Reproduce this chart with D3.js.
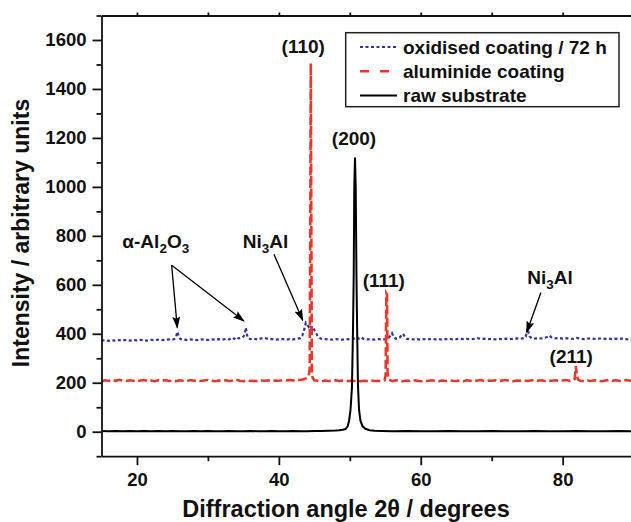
<!DOCTYPE html>
<html><head><meta charset="utf-8">
<script src="https://cdn.jsdelivr.net/npm/d3@7"></script>
<style>
body{margin:0;background:#fff}
svg{display:block}
text{font-family:"Liberation Sans",Arial,Helvetica,sans-serif;font-weight:bold;fill:#111}
</style>
</head><body>
<svg id="chart" width="631" height="522"></svg>
<script>
// ---------- data ----------
const xTicks = [20, 40, 60, 80];
const xMinorTicks = [30, 50, 70];
const xTopTicks = [20, 30, 40, 50, 60, 70, 80];
const yTicks = [0, 200, 400, 600, 800, 1000, 1200, 1400, 1600];
const yMinorTicks = [-100, 100, 300, 500, 700, 900, 1100, 1300, 1500, 1700];
const seriesNames = ["oxidised coating / 72 h", "aluminide coating", "raw substrate"];

const oxidised = [
[15,372],[15.5,374],[16,371],[16.5,373],[17,372],[17.5,374],[18,373],[18.5,375],[19,372],[19.5,374],
[20,373],[20.5,375],[21,374],[21.5,372],[22,375],[22.5,374],[23,376],[23.5,374],[24,375],[24.5,377],
[25,376],[25.3,379],[25.5,386],[25.7,408],[25.9,388],[26.1,379],[26.5,377],[27,375],[27.5,377],[28,376],
[28.5,374],[29,377],[29.5,376],[30,375],[30.5,377],[31,376],[31.5,378],[32,376],[32.5,379],[33,377],
[33.4,384],[33.7,379],[34,386],[34.3,381],[34.7,384],[35,388],[35.2,400],[35.35,425],[35.5,395],[35.7,382],
[36,378],[36.5,380],[37,377],[37.5,381],[38,383],[38.5,379],[39,378],[39.5,376],[40,377],[40.5,378],
[41,376],[41.5,378],[42,377],[42.5,379],[43,382],[43.3,392],[43.6,420],[43.8,445],[44,438],[44.2,428],
[44.4,435],[44.6,422],[44.8,426],[45,415],[45.2,404],[45.5,390],[45.8,382],[46,379],[46.5,378],[47,377],
[47.5,376],[48,378],[48.5,377],[49,376],[49.5,378],[50,377],[50.5,379],[51,386],[51.3,380],[51.6,385],
[52,378],[52.5,377],[53,378],[53.5,376],[54,378],[54.5,377],[55,378],[55.4,381],[55.7,392],[55.95,402],
[56.2,386],[56.5,380],[57,384],[57.3,394],[57.5,400],[57.8,386],[58,380],[58.5,378],[59,377],[59.5,378],
[60,376],[60.5,378],[61,377],[61.5,379],[62,377],[62.5,378],[63,376],[63.5,378],[64,379],[64.5,377],
[65,378],[65.5,380],[66,378],[66.5,379],[67,377],[67.5,379],[68,382],[68.5,379],[69,380],[69.5,378],
[70,379],[70.5,377],[71,379],[71.5,378],[72,380],[72.5,378],[73,379],[73.5,381],[74,379],[74.5,382],
[74.8,388],[75.05,422],[75.3,390],[75.6,383],[76,380],[76.5,382],[77,381],[77.5,384],[77.8,387],[78.1,393],
[78.4,386],[78.8,383],[79,381],[79.5,383],[80,380],[80.5,382],[81,380],[81.5,379],[82,383],[82.5,380],
[83,378],[83.5,380],[84,381],[84.5,379],[85,380],[85.5,381],[86,379],[86.5,380],[87,378],[87.5,380],
[88,379],[88.5,381],[89,378],[89.5,377],[90,378]
];

const aluminide = [
[15,206],[15.5,210],[16,207],[16.5,211],[17,208],[17.5,212],[18,209],[18.5,207],[19,210],[19.5,208],
[20,206],[20.5,209],[21,211],[21.5,207],[22,209],[22.5,206],[23,210],[23.5,208],[24,211],[24.5,207],
[25,209],[25.5,206],[26,210],[26.5,208],[27,207],[27.5,211],[28,208],[28.5,210],[29,207],[29.5,209],
[30,211],[30.5,208],[31,206],[31.5,209],[32,208],[32.5,210],[33,207],[33.5,209],[34,212],[34.5,208],
[35,206],[35.5,209],[36,207],[36.5,208],[37,206],[37.5,209],[38,208],[38.5,210],[39,207],[39.5,209],
[40,208],[40.5,210],[41,209],[41.5,211],[42,209],[42.5,212],[43,211],[43.5,214],[43.9,219],[44.2,226],
[44.35,260],[44.43,900],[44.5,1505],[44.57,900],[44.65,240],[44.75,220],[45,210],[45.5,208],[46,206],[46.5,209],
[47,207],[47.5,208],[48,210],[48.5,207],[49,209],[49.5,206],[50,208],[50.5,207],[51,209],[51.5,206],
[52,208],[52.5,207],[53,209],[53.5,207],[54,208],[54.5,206],[54.9,210],[55.05,230],[55.15,565],[55.25,560],
[55.32,240],[55.45,214],[55.8,209],[56,207],[56.5,210],[57,208],[57.5,206],[58,209],[58.5,207],[59,210],
[59.5,208],[60,206],[60.5,209],[61,207],[61.5,210],[62,208],[62.5,206],[63,209],[63.5,207],[64,210],
[64.5,208],[65,207],[65.5,209],[66,206],[66.5,210],[67,208],[67.5,207],[68,209],[68.5,211],[69,207],
[69.5,209],[70,208],[70.5,210],[71,207],[71.5,209],[72,211],[72.5,208],[73,206],[73.5,209],[74,208],
[74.5,210],[75,207],[75.5,209],[76,211],[76.5,208],[77,210],[77.5,207],[78,209],[78.5,208],[79,210],
[79.5,207],[80,209],[80.5,211],[81,208],[81.5,210],[81.7,215],[81.85,268],[82,232],[82.15,214],[82.5,208],
[83,206],[83.5,209],[84,207],[84.5,210],[85,208],[85.5,206],[86,209],[86.5,211],[87,208],[87.5,210],
[88,207],[88.5,209],[89,211],[89.5,208],[90,209]
];

const substrate = [
[15,3],[16,2],[17,3],[18,2],[19,3],[20,2],[21,3],[22,2],[23,3],[24,2],[25,3],[26,2],[27,2],[28,3],
[29,2],[30,3],[31,2],[32,2],[33,3],[34,2],[35,2],[36,3],[37,2],[38,2],[39,3],[40,2],[41,2],[42,3],
[43,2],[44,2],[45,3],[46,3],[47,4],[48,5],[48.5,6],[49,8],[49.4,11],[49.7,22],[49.9,45],[50.1,90],
[50.3,180],[50.45,420],[50.55,640],[50.63,1000],[50.73,1120],[50.83,1000],[50.95,600],[51.05,380],
[51.15,190],[51.3,90],[51.5,45],[51.8,22],[52.2,12],[52.8,6],[53.5,4],[54.5,3],[56,2],[58,3],[60,2],
[62,2],[64,3],[66,2],[68,2],[70,3],[72,2],[74,2],[76,3],[78,2],[80,2],[82,3],[84,2],[86,2],[88,3],[90,2]
];

// annotation labels: parts = [text, isSubscript]
const peakLabels = [
  {x: 43.44, y: 1547, parts: [["(110)", 0]]},
  {x: 50.59, y: 1170, parts: [["(200)", 0]]},
  {x: 54.79, y: 591,  parts: [["(111)", 0]]},
  {x: 81.21, y: 281,  parts: [["(211)", 0]]},
  {x: 22.65, y: 750,  parts: [["α-Al", 0], ["2", 1], ["O", 0], ["3", 1]]},
  {x: 38.13, y: 750,  parts: [["Ni", 0], ["3", 1], ["Al", 0]]},
  {x: 78.21, y: 605,  parts: [["Ni", 0], ["3", 1], ["Al", 0]]}
];
const arrows = [
  {x1: 24.89, y1: 680, x2: 25.68, y2: 425},
  {x1: 24.89, y1: 680, x2: 35.08, y2: 452},
  {x1: 39.31, y1: 725, x2: 43.36, y2: 455},
  {x1: 76.94, y1: 569, x2: 74.93, y2: 406}
];

// ---------- drawing ----------
const svg = d3.select("#chart");
const x = d3.scaleLinear().domain([15, 90]).range([101.5, 633.6]);
const y = d3.scaleLinear().domain([-100, 1700]).range([456.2, 15.5]);

const colors = {ox: "#33339c", al: "#e8382c", raw: "#000"};

svg.append("defs").append("marker")
  .attr("id", "arr").attr("markerUnits", "userSpaceOnUse")
  .attr("markerWidth", 12).attr("markerHeight", 8)
  .attr("refX", 11).attr("refY", 4).attr("orient", "auto")
  .append("path").attr("d", "M0,0 L12,4 L0,8 L2,4 z").attr("fill", "#000");

const line = d3.line().x(d => x(d[0])).y(d => y(d[1]));

svg.append("path").datum(oxidised).attr("d", line)
  .attr("fill", "none").attr("stroke", colors.ox).attr("stroke-width", 2.2)
  .attr("stroke-dasharray", "3,2.5");
svg.append("path").datum(aluminide).attr("d", line)
  .attr("fill", "none").attr("stroke", colors.al).attr("stroke-width", 2.6)
  .attr("stroke-dasharray", "9,3.5");
svg.append("path").datum(substrate).attr("d", line)
  .attr("fill", "none").attr("stroke", colors.raw).attr("stroke-width", 2);

// axes
function styleAxis(g) {
  g.selectAll("path,line").attr("stroke", "#111").attr("stroke-width", 1.8);
  g.selectAll("text").style("font-size", "18.5px").attr("fill", "#111")
    .style("font-family", '"Liberation Sans",Arial,sans-serif').style("font-weight", "bold");
}
const fmt = d3.format("d");
svg.append("g").attr("transform", "translate(101.5,0)")
  .call(d3.axisLeft(y).tickValues(yTicks).tickFormat(fmt).tickSize(9).tickSizeOuter(0).tickPadding(6))
  .call(styleAxis);
svg.append("g").attr("transform", "translate(101.5,0)")
  .call(d3.axisLeft(y).tickValues(yMinorTicks).tickSize(5).tickFormat(""))
  .call(g => g.select(".domain").remove()).call(styleAxis);
svg.append("g").attr("transform", `translate(0,${y(-100)})`)
  .call(d3.axisBottom(x).tickValues(xTicks).tickFormat(fmt).tickSize(9).tickSizeOuter(0).tickPadding(8))
  .call(styleAxis);
svg.append("g").attr("transform", `translate(0,${y(-100)})`)
  .call(d3.axisBottom(x).tickValues(xMinorTicks).tickSize(5).tickFormat(""))
  .call(g => g.select(".domain").remove()).call(styleAxis);
svg.append("g").attr("transform", `translate(0,${y(1700)})`)
  .call(d3.axisTop(x).tickValues(xTopTicks).tickSize(3).tickSizeOuter(0).tickFormat(""))
  .call(styleAxis);

// axis titles
svg.append("text").attr("x", 346).attr("y", 517).attr("text-anchor", "middle")
  .style("font-size", "23.5px").text("Diffraction angle 2θ / degrees");
svg.append("text").attr("transform", "translate(29,233) rotate(-90)").attr("text-anchor", "middle")
  .style("font-size", "23px").text("Intensity / arbitrary units");

// arrows
svg.selectAll(".arrow").data(arrows).join("line").attr("class", "arrow")
  .attr("x1", d => x(d.x1)).attr("y1", d => y(d.y1))
  .attr("x2", d => x(d.x2)).attr("y2", d => y(d.y2))
  .attr("stroke", "#000").attr("stroke-width", 1.3).attr("marker-end", "url(#arr)");

// labels
peakLabels.forEach(l => {
  const t = svg.append("text").attr("x", x(l.x)).attr("y", y(l.y))
    .attr("text-anchor", "middle").style("font-size", "19px");
  let sub = false;
  l.parts.forEach(p => {
    const ts = t.append("tspan").text(p[0]);
    if (p[1] && !sub) { ts.attr("dy", 5).style("font-size", "13.5px"); sub = true; }
    else if (!p[1] && sub) { ts.attr("dy", -5); sub = false; }
    else if (p[1]) { ts.style("font-size", "13.5px"); }
  });
});

// legend
const lg = svg.append("g");
lg.append("rect").attr("x", 345.7).attr("y", 32.7).attr("width", 273.3).attr("height", 74)
  .attr("fill", "#fff").attr("stroke", "#222").attr("stroke-width", 1.5);
const legendStyles = [
  {c: colors.ox, w: 2, dash: "3,2.5", x2: 397},
  {c: colors.al, w: 2.5, dash: "9,11", x2: 389},
  {c: colors.raw, w: 2, dash: null, x2: 397}
];
seriesNames.forEach((name, i) => {
  const yy = 47 + i * 24.3;
  const s = legendStyles[i];
  lg.append("line").attr("x1", 360).attr("x2", s.x2).attr("y1", yy).attr("y2", yy)
    .attr("stroke", s.c).attr("stroke-width", s.w).attr("stroke-dasharray", s.dash);
  lg.append("text").attr("x", 403).attr("y", yy).attr("dy", "0.36em")
    .style("font-size", "19px").text(name);
});
</script>
</body></html>
